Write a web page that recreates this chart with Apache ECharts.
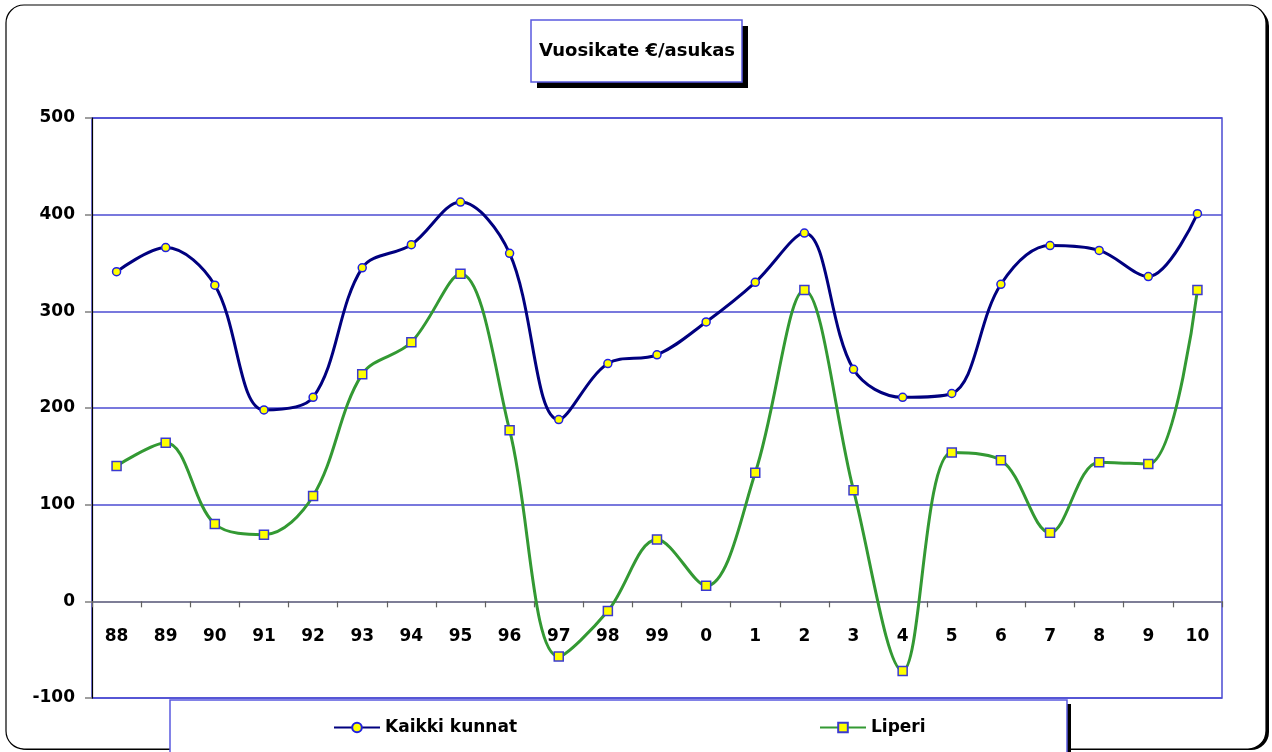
<!DOCTYPE html>
<html>
<head>
<meta charset="utf-8">
<title>Vuosikate €/asukas</title>
<script src="https://cdn.jsdelivr.net/npm/echarts@6/dist/echarts.min.js"></script>
<style>
  html, body { margin: 0; padding: 0; background: #fff; }
  #chart { width: 1272px; height: 752px; }
</style>
</head>
<body>
<div id="chart"></div>
<script>
"use strict";

// Years on the x axis, two-digit as printed under the axis.
const years = ["88", "89", "90", "91", "92", "93", "94", "95", "96", "97", "98", "99",
               "0", "1", "2", "3", "4", "5", "6", "7", "8", "9", "10"];

// Vuosikate €/asukas.
const kaikkiKunnat = [341, 366, 327, 198, 211, 345, 369, 413, 360, 188, 246, 255,
                      289, 330, 381, 240, 211, 215, 328, 368, 363, 336, 401];
const liperi = [140, 164, 80, 69, 109, 235, 268, 339, 177, -57, -10, 64,
                16, 133, 322, 115, -72, 154, 146, 71, 144, 142, 322];

const yTicks = { min: -100, max: 500, step: 100 };

const FONT = "'DejaVu Sans', 'Noto Sans', sans-serif";
const GRID_BLUE = "#4b4bd2";
const BOX_BLUE = "#5a5ae0";

// plot box in pixels; the category axis sits on the zero line inside it
const PLOT = { left: 92, right: 50, top: 118, bottom: 54 };
const plotH = 752 - PLOT.top - PLOT.bottom;
const zeroOffset = -plotH * (0 - yTicks.min) / (yTicks.max - yTicks.min);

// A white box with a blue edge and a hard black drop shadow (Excel style).
const shadowBox = (x, y, w, h, off) => [
  { type: "rect", shape: { x: x + off, y: y + off, width: w, height: h },
    style: { fill: "#000" }, z: 1 },
  { type: "rect", shape: { x, y, width: w, height: h },
    style: { fill: "#fff", stroke: BOX_BLUE, lineWidth: 1.5 }, z: 2 },
];

const chart = echarts.init(document.getElementById("chart"), null, { renderer: "canvas" });

chart.setOption({
  animation: false,
  backgroundColor: "#fff",
  textStyle: { fontFamily: FONT },
  graphic: [
    // outer rounded frame with its shadow
    { type: "rect", shape: { x: 9, y: 8, width: 1260, height: 742, r: 18 },
      style: { fill: "#000" }, z: -10 },
    { type: "rect", shape: { x: 6, y: 5, width: 1260, height: 744, r: 18 },
      style: { fill: "#fff", stroke: "#000", lineWidth: 1.2 }, z: -9 },
    ...shadowBox(531, 20, 211, 62, 6),
    { type: "text", x: 637, y: 51, z: 3,
      style: { text: "Vuosikate €/asukas", fill: "#000", align: "center", verticalAlign: "middle",
               font: "bold 18px " + FONT } },
    ...shadowBox(170, 700, 897, 56, 4),
  ],
  grid: {
    ...PLOT,
    show: true, borderColor: GRID_BLUE, borderWidth: 1.5, backgroundColor: "transparent",
  },
  legend: [
    { data: ["Kaikki kunnat"], left: 328, top: 714, itemWidth: 46, itemHeight: 12, itemGap: 4,
      textStyle: { fontSize: 17, fontWeight: "bold", color: "#000", fontFamily: FONT }, z: 5 },
    { data: ["Liperi"], left: 814, top: 714, itemWidth: 46, itemHeight: 12, itemGap: 4,
      textStyle: { fontSize: 17, fontWeight: "bold", color: "#000", fontFamily: FONT }, z: 5 },
  ],
  xAxis: {
    type: "category",
    data: years,
    boundaryGap: true,
    offset: zeroOffset,
    axisLine: { onZero: false, lineStyle: { color: "#808080", width: 1.5 } },
    axisTick: { show: true, alignWithLabel: false, length: 6, inside: false,
                lineStyle: { color: "#606060", width: 1.2 } },
    axisLabel: { margin: 27, fontSize: 17, fontWeight: "bold", color: "#000", fontFamily: FONT },
    splitLine: { show: false },
  },
  yAxis: {
    type: "value",
    min: yTicks.min, max: yTicks.max, interval: yTicks.step,
    axisLine: { show: true, lineStyle: { color: "#000", width: 1.2 } },
    axisTick: { show: true, length: 7, lineStyle: { color: "#808080", width: 1.5 } },
    axisLabel: { margin: 17, fontSize: 17, fontWeight: "bold", color: "#000", fontFamily: FONT },
    splitLine: { show: true, lineStyle: { color: GRID_BLUE, width: 1.5 } },
  },
  series: [
    {
      name: "Kaikki kunnat",
      type: "line",
      data: kaikkiKunnat,
      smooth: 0.35,
      symbol: "circle",
      symbolSize: 8,
      showAllSymbol: true,
      lineStyle: { color: "#00007f", width: 3 },
      itemStyle: { color: "#ffff00", borderColor: "#2020e0", borderWidth: 1.5 },
      z: 3,
    },
    {
      name: "Liperi",
      type: "line",
      data: liperi,
      smooth: 0.35,
      symbol: "rect",
      symbolSize: 9,
      showAllSymbol: true,
      lineStyle: { color: "#339933", width: 3 },
      itemStyle: { color: "#ffff00", borderColor: "#3a3ad0", borderWidth: 1.5 },
      z: 3,
    },
  ],
});
</script>
</body>
</html>
